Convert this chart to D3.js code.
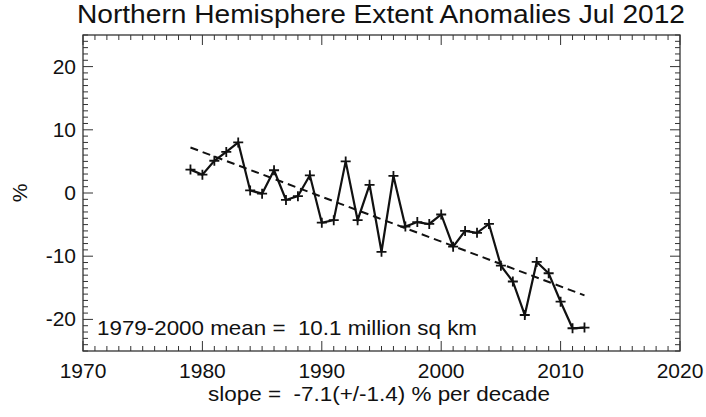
<!DOCTYPE html>
<html>
<head>
<meta charset="utf-8">
<script src="https://cdn.jsdelivr.net/npm/d3@7"></script>
<style>
    body { margin: 0; background: #fff; }
    text { font-family: "Liberation Sans", Arial, sans-serif; fill: #111; white-space: pre; }
</style>
</head>
<body>
<div id="chart"></div>
<script>
// July extent anomalies (%)
const years = [1979, 1980, 1981, 1982, 1983, 1984, 1985, 1986, 1987, 1988, 1989,
    1990, 1991, 1992, 1993, 1994, 1995, 1996, 1997, 1998, 1999, 2000, 2001, 2002,
    2003, 2004, 2005, 2006, 2007, 2008, 2009, 2010, 2011, 2012];
const anomalies = [3.7, 2.9, 5.1, 6.5, 8.0, 0.4, -0.1, 3.6, -1.1, -0.5, 2.8,
    -4.7, -4.3, 5.0, -4.3, 1.3, -9.3, 2.7, -5.3, -4.6, -4.9, -3.4, -8.5, -6.0,
    -6.3, -4.9, -11.5, -14.0, -19.3, -10.9, -12.7, -17.2, -21.4, -21.3];
// dashed linear trend, value at the first and last year
const trendYears = [1979, 2012];
const trendValues = [7.2, -16.2];

const xTicks = [1970, 1980, 1990, 2000, 2010, 2020];
const yTicks = [-20, -10, 0, 10, 20];
const titleText = "Northern Hemisphere Extent Anomalies Jul 2012";
const meanText = "1979-2000 mean =  10.1 million sq km";
const slopeText = "slope =  -7.1(+/-1.4) % per decade";

const width = 706, height = 417;
const margin = {top: 35, right: 26, bottom: 66, left: 83};
const plotW = width - margin.left - margin.right;
const plotH = height - margin.top - margin.bottom;
const fontSize = 21;

const svg = d3.select("#chart").append("svg")
    .attr("width", width)
    .attr("height", height);

const x = d3.scaleLinear().domain([1970, 2020]).range([0, plotW]);
const y = d3.scaleLinear().domain([-25, 25]).range([plotH, 0]);

const g = svg.append("g")
    .attr("transform", "translate(" + margin.left + "," + margin.top + ")");

// IDL style box: ticks pointing inwards on all four sides
const minorX = d3.range(1970, 2021, 1);
const minorY = d3.range(-25, 26, 1);
const tickG = g.append("g").attr("stroke", "#333").attr("stroke-width", 1);
minorX.forEach(v => {
    const len = v % 10 === 0 ? 10 : 5;
    tickG.append("line").attr("x1", x(v)).attr("x2", x(v)).attr("y1", plotH).attr("y2", plotH - len);
    tickG.append("line").attr("x1", x(v)).attr("x2", x(v)).attr("y1", 0).attr("y2", len);
});
minorY.forEach(v => {
    const len = v % 10 === 0 ? 10 : 5;
    tickG.append("line").attr("x1", 0).attr("x2", len).attr("y1", y(v)).attr("y2", y(v));
    tickG.append("line").attr("x1", plotW).attr("x2", plotW - len).attr("y1", y(v)).attr("y2", y(v));
});
g.append("rect")
    .attr("width", plotW)
    .attr("height", plotH)
    .attr("fill", "none")
    .attr("stroke", "#333")
    .attr("stroke-width", 1.3);

// tick labels
g.selectAll(".xLabel")
    .data(xTicks)
    .join("text")
    .attr("class", "xLabel")
    .attr("x", d => x(d))
    .attr("y", plotH + 27)
    .attr("text-anchor", "middle")
    .attr("font-size", fontSize)
    .text(d => d);
g.selectAll(".yLabel")
    .data(yTicks)
    .join("text")
    .attr("class", "yLabel")
    .attr("x", -7)
    .attr("y", d => y(d) + 7)
    .attr("text-anchor", "end")
    .attr("font-size", fontSize)
    .text(d => d);

svg.append("text")
    .attr("transform", "translate(27," + (margin.top + y(0)) + ") rotate(-90)")
    .attr("text-anchor", "middle")
    .attr("font-size", fontSize)
    .text("%");

// trend
g.append("line")
    .attr("x1", x(trendYears[0])).attr("y1", y(trendValues[0]))
    .attr("x2", x(trendYears[1])).attr("y2", y(trendValues[1]))
    .attr("stroke", "#111")
    .attr("stroke-width", 2)
    .attr("stroke-dasharray", "8,5");

// series
const points = years.map((yr, i) => ({year: yr, value: anomalies[i]}));
const line = d3.line().x(d => x(d.year)).y(d => y(d.value));
g.append("path")
    .datum(points)
    .attr("d", line)
    .attr("fill", "none")
    .attr("stroke", "#111")
    .attr("stroke-width", 2.2)
    .attr("stroke-linejoin", "miter");

const marker = 5;
g.selectAll(".plus")
    .data(points)
    .join("path")
    .attr("class", "plus")
    .attr("d", d => {
        const px = x(d.year), py = y(d.value);
        return "M" + (px - marker) + "," + py + "H" + (px + marker)
            + "M" + px + "," + (py - marker) + "V" + (py + marker);
    })
    .attr("stroke", "#111")
    .attr("stroke-width", 1.8);

// texts
svg.append("text")
    .attr("x", 77)
    .attr("y", 23)
    .attr("font-size", 25)
    .attr("textLength", 608)
    .attr("lengthAdjust", "spacingAndGlyphs")
    .text(titleText);
svg.append("text")
    .attr("x", 97)
    .attr("y", 335)
    .attr("font-size", fontSize)
    .attr("textLength", 380)
    .attr("lengthAdjust", "spacingAndGlyphs")
    .text(meanText);
svg.append("text")
    .attr("x", 208)
    .attr("y", 401)
    .attr("font-size", fontSize)
    .attr("textLength", 342)
    .attr("lengthAdjust", "spacingAndGlyphs")
    .text(slopeText);
</script>
</body>
</html>
